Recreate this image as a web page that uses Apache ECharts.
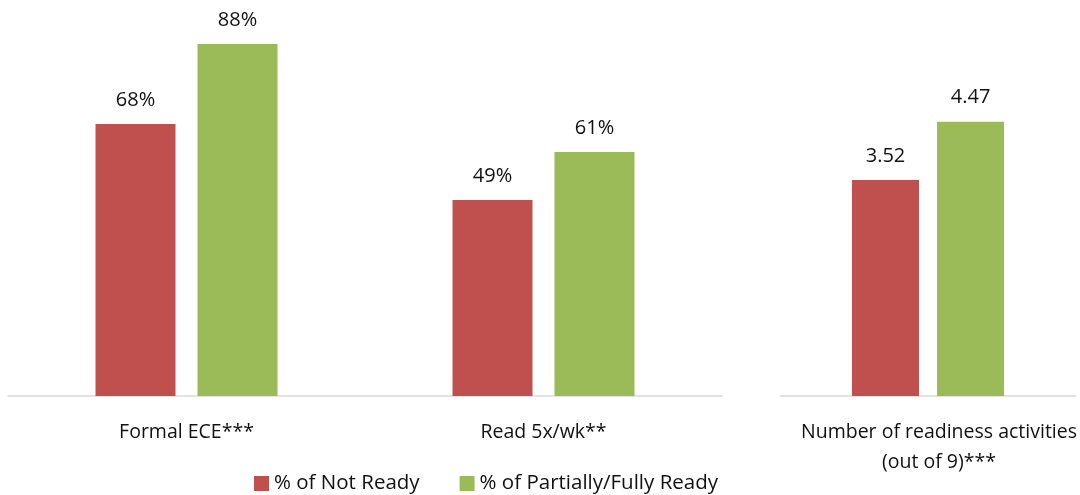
<!DOCTYPE html>
<html>
<head>
<meta charset="utf-8">
<script src="https://cdn.jsdelivr.net/npm/echarts@6/dist/echarts.min.js"></script>
<style>
html,body{margin:0;padding:0;background:#fff;}
#chart{width:1080px;height:495px;}
</style>
</head>
<body>
<div id="chart"></div>
<script>
const seriesNames = ['% of Not Ready', '% of Partially/Fully Ready'];
const categoriesLeft = ['Formal ECE***', 'Read 5x/wk**'];
const notReadyPct = [68, 49];
const readyPct = [88, 61];
const categoriesRight = ['Number of readiness activities\n(out of 9)***'];
const notReadyActivities = [3.52];
const readyActivities = [4.47];

const RED = '#C0504D';
const GREEN = '#9BBB59';
const FONT = 'Open Sans';
const TXT = '#111';

const chart = echarts.init(document.getElementById('chart'), null, {renderer: 'canvas'});

const axisLineStyle = {show: true, lineStyle: {color: '#d9d9d9', width: 1.5}};
const catLabel = {color: TXT, fontFamily: FONT, fontSize: 19.5, margin: 21, lineHeight: 30, interval: 0};
const catLabelRight = Object.assign({}, catLabel, {padding: [0, 0, 0, 22]});
const valLabel = (fmt) => ({show: true, position: 'top', distance: 14, color: TXT, fontFamily: FONT, fontSize: 20, formatter: fmt});

chart.setOption({
  animation: false,
  backgroundColor: '#fff',
  textStyle: {fontFamily: FONT},
  legend: {
    data: seriesNames,
    top: 468,
    left: 249,
    itemWidth: 15,
    itemHeight: 15,
    itemGap: 40,
    icon: 'rect',
    textStyle: {color: TXT, fontFamily: FONT, fontSize: 20.5}
  },
  grid: [
    {left: 8, width: 714, top: 4, bottom: 99},
    {left: 780, width: 298, top: 4, bottom: 99}
  ],
  xAxis: [
    {type: 'category', gridIndex: 0, data: categoriesLeft, axisLine: axisLineStyle, axisTick: {show: false}, axisLabel: catLabel},
    {type: 'category', gridIndex: 1, data: categoriesRight, axisLine: axisLineStyle, axisTick: {show: false}, axisLabel: catLabelRight}
  ],
  yAxis: [
    {type: 'value', gridIndex: 0, min: 0, max: 98, show: false, splitLine: {show: false}},
    {type: 'value', gridIndex: 1, min: 0, max: 6.39, show: false, splitLine: {show: false}}
  ],
  series: [
    {name: seriesNames[0], type: 'bar', xAxisIndex: 0, yAxisIndex: 0, data: notReadyPct, barWidth: 80, barGap: '27.5%', itemStyle: {color: RED}, label: valLabel(p => p.value + '%')},
    {name: seriesNames[1], type: 'bar', xAxisIndex: 0, yAxisIndex: 0, data: readyPct, barWidth: 80, barGap: '27.5%', itemStyle: {color: GREEN}, label: valLabel(p => p.value + '%')},
    {name: seriesNames[0], type: 'bar', xAxisIndex: 1, yAxisIndex: 1, data: notReadyActivities, barWidth: 67, barGap: '27%', itemStyle: {color: RED}, label: valLabel(p => p.value.toFixed(2))},
    {name: seriesNames[1], type: 'bar', xAxisIndex: 1, yAxisIndex: 1, data: readyActivities, barWidth: 67, barGap: '27%', itemStyle: {color: GREEN}, label: valLabel(p => p.value.toFixed(2))}
  ]
});
</script>
</body>
</html>
